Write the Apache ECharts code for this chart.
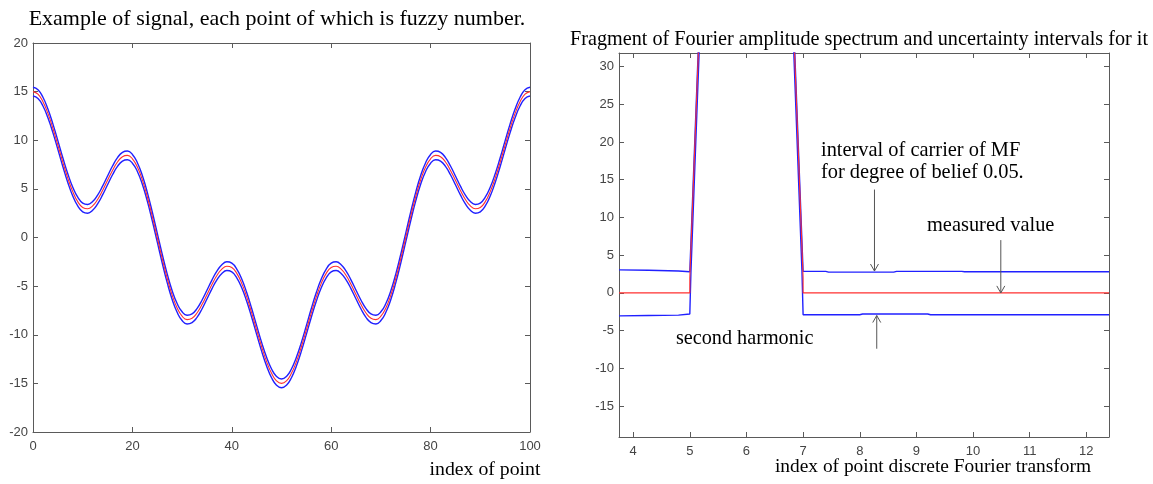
<!DOCTYPE html>
<html><head><meta charset="utf-8">
<script src="https://cdn.jsdelivr.net/npm/echarts@6/dist/echarts.min.js"></script>
<style>html,body{margin:0;padding:0;background:#fff}#c{width:1153px;height:484px}</style>
</head><body><div id="c"></div>
<script>
// ---------- Left chart data (signal, each point a fuzzy number) ----------
const leftX = Array.from({ length: 101 }, (_, i) => i); // point index 0..100
const leftMeasured = [15.00,14.74,13.97,12.76,11.23,9.51,7.75,6.11,4.72,3.69,3.09,2.95,3.25,3.91,4.83,5.88,6.90,7.76,8.30,8.44,8.09,7.24,5.92,4.19,2.17,0.00,-2.17,-4.19,-5.92,-7.24,-8.09,-8.44,-8.30,-7.76,-6.90,-5.88,-4.83,-3.91,-3.25,-2.95,-3.09,-3.69,-4.72,-6.11,-7.75,-9.51,-11.23,-12.76,-13.97,-14.74,-15.00,
  -14.74,-13.97,-12.76,-11.23,-9.51,-7.75,-6.11,-4.72,-3.69,-3.09,-2.95,-3.25,-3.91,-4.83,-5.88,-6.90,-7.76,-8.30,-8.44,-8.09,-7.24,-5.92,-4.19,-2.17,0.00,2.17,4.19,5.92,7.24,8.09,8.44,8.30,7.76,6.90,5.88,4.83,3.91,3.25,2.95,3.09,3.69,4.72,6.11,7.75,9.51,11.23,12.76,13.97,14.74,15.00];
const leftUpper = [15.45,15.19,14.42,13.21,11.68,9.96,8.20,6.56,5.17,4.14,3.54,3.40,3.70,4.36,5.28,6.33,7.35,8.21,8.75,8.89,8.54,7.69,6.37,4.64,2.62,0.45,-1.72,-3.74,-5.47,-6.79,-7.64,-7.99,-7.85,-7.31,-6.45,-5.43,-4.38,-3.46,-2.80,-2.50,-2.64,-3.24,-4.27,-5.66,-7.30,-9.06,-10.78,-12.31,-13.52,-14.29,-14.55,
  -14.29,-13.52,-12.31,-10.78,-9.06,-7.30,-5.66,-4.27,-3.24,-2.64,-2.50,-2.80,-3.46,-4.38,-5.43,-6.45,-7.31,-7.85,-7.99,-7.64,-6.79,-5.47,-3.74,-1.72,0.45,2.62,4.64,6.37,7.69,8.54,8.89,8.75,8.21,7.35,6.33,5.28,4.36,3.70,3.40,3.54,4.14,5.17,6.56,8.20,9.96,11.68,13.21,14.42,15.19,15.45];
const leftLower = [14.55,14.29,13.52,12.31,10.78,9.06,7.30,5.66,4.27,3.24,2.64,2.50,2.80,3.46,4.38,5.43,6.45,7.31,7.85,7.99,7.64,6.79,5.47,3.74,1.72,-0.45,-2.62,-4.64,-6.37,-7.69,-8.54,-8.89,-8.75,-8.21,-7.35,-6.33,-5.28,-4.36,-3.70,-3.40,-3.54,-4.14,-5.17,-6.56,-8.20,-9.96,-11.68,-13.21,-14.42,-15.19,-15.45,
  -15.19,-14.42,-13.21,-11.68,-9.96,-8.20,-6.56,-5.17,-4.14,-3.54,-3.40,-3.70,-4.36,-5.28,-6.33,-7.35,-8.21,-8.75,-8.89,-8.54,-7.69,-6.37,-4.64,-2.62,-0.45,1.72,3.74,5.47,6.79,7.64,7.99,7.85,7.31,6.45,5.43,4.38,3.46,2.80,2.50,2.64,3.24,4.27,5.66,7.30,9.06,10.78,12.31,13.52,14.29,14.55];
const leftXTicks = [0,20,40,60,80,100];
const leftYTicks = [-20,-15,-10,-5,0,5,10,15,20];

// ---------- Right chart data (Fourier amplitude spectrum fragment) ----------
const rightMeasuredX = [3.75,5.0,5.0,6.0,7.0,7.0,12.4];
const rightMeasuredY = [0,0,2,200,2,0,0];
const rightUpperX = [3.75,4.27,4.28,4.8,4.81,5.0,6.0,7.0,7.4,7.45,8.6,8.65,9.8,9.85,12.4];
const rightUpperY = [3.05,3.0,2.9,2.9,2.8,2.8,200,2.85,2.85,2.75,2.75,2.85,2.85,2.8,2.8];
const rightLowerX = [3.75,4.27,4.28,4.8,4.81,5.0,5.02,6.0,6.98,7.0,8.0,8.05,9.2,9.25,12.4];
const rightLowerY = [-3.05,-3.0,-2.95,-2.95,-2.8,-2.8,2.8,200,2.8,-2.9,-2.9,-2.8,-2.8,-2.9,-2.9];
const rightXTicks = [4,5,6,7,8,9,10,11,12];
const rightYTicks = [-15,-10,-5,0,5,10,15,20,25,30];

const zip = (xs, ys) => xs.map((x, i) => [x, ys[i]]);

const AX = '#5a5a5a', LAB = '#444', BLUE = '#2020ff', RED = '#ff3030';
const labFont = { color: LAB, fontFamily: 'Liberation Sans', fontSize: 13 };

function mkAx(grid, min, max, ticks, pos, showLabel, margin) {
  return {
    type: 'value', gridIndex: grid, min, max, position: pos,
    axisLine: { show: true, onZero: false, lineStyle: { color: AX, width: 1 } },
    axisTick: { show: true, inside: true, length: 5, customValues: ticks, lineStyle: { color: AX } },
    axisLabel: Object.assign({ show: showLabel, margin, customValues: ticks }, labFont),
    splitLine: { show: false }
  };
}

const chart = echarts.init(document.getElementById('c'), null, { renderer: 'canvas' });
const line = (name, xi, yi, data, color, width, smooth, z) => ({
  name, type: 'line', xAxisIndex: xi, yAxisIndex: yi, data, showSymbol: false, symbol: 'none',
  smooth, clip: true, lineStyle: { color, width }, z, animation: false
});

chart.setOption({
  backgroundColor: '#fff',
  animation: false,
  grid: [
    { left: 33, top: 43, width: 497, height: 389 },
    { left: 619, top: 53, width: 490, height: 384 }
  ],
  xAxis: [
    mkAx(0, 0, 100, leftXTicks, 'bottom', true, 8),
    mkAx(0, 0, 100, leftXTicks, 'top', false, 8),
    mkAx(1, 3.75, 12.4, rightXTicks, 'bottom', true, 8),
    mkAx(1, 3.75, 12.4, rightXTicks, 'top', false, 8)
  ],
  yAxis: [
    mkAx(0, -20, 20, leftYTicks, 'left', true, 5),
    mkAx(0, -20, 20, leftYTicks, 'right', false, 5),
    mkAx(1, -19.1, 31.8, rightYTicks, 'left', true, 5),
    mkAx(1, -19.1, 31.8, rightYTicks, 'right', false, 5)
  ],
  series: [
    line('upper', 0, 0, zip(leftX, leftUpper), BLUE, 1.4, true, 2),
    line('lower', 0, 0, zip(leftX, leftLower), BLUE, 1.4, true, 2),
    line('measured', 0, 0, zip(leftX, leftMeasured), RED, 1.1, true, 3),
    line('upperR', 2, 2, zip(rightUpperX, rightUpperY), BLUE, 1.4, false, 2),
    line('lowerR', 2, 2, zip(rightLowerX, rightLowerY), BLUE, 1.4, false, 2),
    line('measuredR', 2, 2, zip(rightMeasuredX, rightMeasuredY), RED, 1.1, false, 3)
  ]
});

// Annotations (titles, axis names, notes, arrows)
const serif = 'Liberation Serif';
const g = [];
function txt(text, x, y, size, align) {
  g.push({ type: 'text', x, y, z: 10, style: { text, fill: '#000', font: size + 'px "' + serif + '"', textAlign: align || 'left', textVerticalAlign: 'middle' } });
}
txt('Example of signal, each point of which is fuzzy number.', 277, 19, 22, 'center');
txt('Fragment of Fourier amplitude spectrum and uncertainty intervals for it', 859, 40, 20.2, 'center');
txt('index of point', 485, 470, 19.8, 'center');
txt('index of point discrete Fourier transform', 933, 467, 19.4, 'center');
txt('interval of carrier of MF', 821, 151, 20.4);
txt('for degree of belief 0.05.', 821, 173, 20.4);
txt('measured value', 927, 226, 20.4);
txt('second harmonic', 676, 339, 20.2);

function arrow(x, y0, y1) {
  const p0 = chart.convertToPixel({ gridIndex: 1 }, [x, y0]);
  const p1 = chart.convertToPixel({ gridIndex: 1 }, [x, y1]);
  const dir = p1[1] > p0[1] ? 1 : -1;
  g.push({ type: 'line', z: 10, shape: { x1: p0[0], y1: p0[1], x2: p1[0], y2: p1[1] }, style: { stroke: '#555', lineWidth: 1 } });
  g.push({ type: 'polyline', z: 10, shape: { points: [[p1[0] - 4, p1[1] - dir * 7], [p1[0], p1[1]], [p1[0] + 4, p1[1] - dir * 7]] }, style: { stroke: '#555', lineWidth: 1, fill: null } });
}
arrow(8.26, 13.7, 2.9);
arrow(10.49, 7.0, 0);
arrow(8.3, -7.4, -3.0);

chart.setOption({ graphic: g });
</script></body></html>
